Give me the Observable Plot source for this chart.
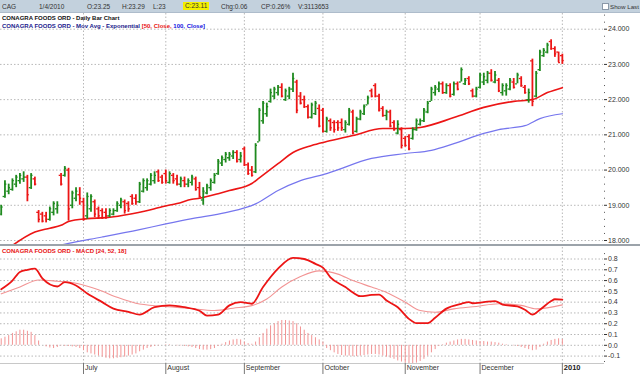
<!DOCTYPE html>
<html><head><meta charset="utf-8">
<script src="https://cdn.jsdelivr.net/npm/d3@7"></script>
<script src="https://cdn.jsdelivr.net/npm/@observablehq/plot@0.6"></script>
<style>
body{margin:0;width:640px;height:375px;overflow:hidden;background:#fff;font-family:"Liberation Sans",Arial,sans-serif;position:relative}
#hdr{position:absolute;left:0;top:0;width:640px;height:12px;background:#c3d1dd;border-bottom:1px solid #aebccb;font-size:6.5px;color:#333}
#hdr span{position:absolute;top:2.5px;white-space:nowrap}
#hdr .hl{background:#f4f000;padding:0 2px;top:1.5px;height:8.5px;line-height:8.5px}
#chk{position:absolute;left:602px;top:3px;width:5px;height:5px;border:1px solid #8a98a8;background:#fff}
.ttl{position:absolute;left:2px;font-size:6px;font-weight:bold;white-space:nowrap}
#main{position:absolute;left:0;top:13px}
#macd{position:absolute;left:0;top:247px}
#sep{position:absolute;left:0;top:244px;width:640px;height:2px;background:#9ca3aa}
</style></head>
<body>
<div id="hdr">
<span style="left:2px">CAG</span>
<span style="left:39px">1/4/2010</span>
<span style="left:87px">O:23.25</span>
<span style="left:122px">H:23.29</span>
<span style="left:153px">L:23</span>
<span class="hl" style="left:183px">C:23.11</span>
<span style="left:221px">Chg:0.06</span>
<span style="left:261px">CP:0.26%</span>
<span style="left:298px">V:3113653</span>
<div id="chk"></div>
<span style="left:610px;font-size:6.2px">Show Last</span>
</div>
<div id="main"></div>
<div id="sep"></div>
<div id="macd"></div>
<div class="ttl" style="top:15px;color:#111">CONAGRA FOODS ORD - Daily Bar Chart</div>
<div class="ttl" style="top:22.5px;color:#1a1a8c">CONAGRA FOODS ORD - Mov Avg - Exponential <span style="color:#e81010">[50, Close, </span><span style="color:#1010e0">100, Close]</span></div>
<div class="ttl" style="top:248px;color:#e81010">CONAGRA FOODS ORD - MACD [24, 52, 18]</div>
<script>
// ---- Data (trading-day index 0 = 1 Jun 2009 ... 150 = 4 Jan 2010) ----
const opens = [18.75,19.25,19.4,19.45,19.6,19.7,19.75,19.8,19.5,19.75,18.8,18.75,18.7,18.6,18.8,18.9,19.85,19.85,20.0,19.0,19.2,19.3,
19.1,18.7,18.9,19.1,18.9,18.85,18.8,18.7,18.75,18.85,19.0,19.1,19.05,19.25,19.2,19.1,19.4,19.5,19.6,19.7,19.95,19.8,
19.9,19.65,19.85,19.75,19.6,19.7,19.6,19.65,19.75,19.5,19.15,19.35,19.5,19.65,19.9,20.2,20.3,20.35,20.4,20.5,20.3,
20.6,20.15,20.0,19.95,20.8,21.4,21.6,21.95,22.1,22.2,22.35,22.0,22.1,22.3,22.5,22.1,22.0,21.8,21.5,21.6,21.75,
21.7,21.1,21.4,21.35,21.35,21.35,21.15,21.3,21.65,21.1,21.45,21.6,21.85,22.25,22.4,22.1,21.75,21.55,21.65,21.35,21.05,21.15,
20.9,20.95,20.9,21.15,21.3,21.4,21.65,21.95,22.2,22.3,22.45,22.2,22.4,22.15,22.45,22.5,22.45,22.6,22.25,22.1,
22.35,22.5,22.55,22.75,22.5,22.55,22.2,22.25,22.3,22.5,22.45,22.6,22.35,22.0,23.1,22.1,22.85,23.25,23.35,23.65,23.45,23.35,
23.25];
const highs = [19.0,19.7,19.6,19.75,19.85,19.9,19.95,19.85,19.9,19.8,18.85,18.8,18.8,18.95,19.1,19.1,19.9,20.1,20.05,19.4,19.5,19.5,
19.2,19.35,19.3,19.15,18.95,18.9,18.9,18.9,18.9,19.1,19.2,19.15,19.1,19.3,19.3,19.65,19.75,19.75,19.9,19.95,20.0,19.85,
20.0,19.95,19.9,19.85,19.8,19.8,19.75,19.85,19.8,19.65,19.5,19.6,19.75,19.9,20.3,20.4,20.5,20.5,20.55,20.55,20.5,
20.65,20.2,20.1,20.75,21.75,21.95,21.9,22.3,22.35,22.4,22.45,22.3,22.35,22.75,22.55,22.2,22.1,21.85,21.9,21.95,21.85,
21.75,21.5,21.45,21.4,21.4,21.45,21.4,21.75,21.7,21.5,21.7,21.85,22.1,22.3,22.45,22.15,21.8,21.7,21.7,21.4,21.4,21.2,
20.95,21.0,21.2,21.45,21.45,21.75,21.95,22.35,22.4,22.5,22.5,22.45,22.45,22.5,22.5,22.9,22.6,22.65,22.3,22.35,
22.75,22.75,22.8,22.85,22.8,22.6,22.45,22.45,22.6,22.6,22.75,22.65,22.4,22.3,23.15,22.8,23.4,23.45,23.6,23.7,23.5,23.35,
23.29];
const lows = [18.7,19.2,19.3,19.4,19.5,19.6,19.65,19.1,19.45,19.55,18.5,18.5,18.5,18.55,18.7,18.75,19.55,19.8,18.55,18.9,19.1,19.0,
18.55,18.6,18.8,18.65,18.6,18.6,18.6,18.65,18.7,18.8,18.9,18.75,18.8,19.0,19.0,19.05,19.35,19.4,19.55,19.6,19.65,19.6,
19.6,19.6,19.6,19.55,19.5,19.5,19.5,19.55,19.4,19.2,19.0,19.3,19.4,19.6,19.85,20.1,20.2,20.25,20.3,20.2,20.2,
20.1,19.85,19.8,19.9,20.8,21.3,21.5,21.9,22.0,22.1,22.05,21.95,22.0,22.2,21.6,21.85,21.75,21.45,21.45,21.55,21.2,
21.05,21.05,21.1,21.05,21.1,21.1,21.05,21.25,21.0,21.05,21.4,21.55,21.85,22.05,22.05,21.65,21.5,21.4,21.2,21.1,21.0,20.6,
20.65,20.55,20.85,21.1,21.25,21.35,21.6,21.95,22.1,22.2,22.15,22.15,22.05,22.1,22.25,22.5,22.4,22.4,22.05,22.05,
22.3,22.4,22.45,22.5,22.45,22.2,22.1,22.1,22.25,22.3,22.45,22.35,22.15,21.9,21.8,22.05,22.8,23.2,23.3,23.4,23.2,23.05,
23.0];
const closes = [18.95,19.6,19.5,19.7,19.8,19.85,19.8,19.3,19.85,19.6,18.6,18.55,18.6,18.9,19.05,19.0,19.6,20.05,18.9,19.35,19.4,19.2,
18.6,19.25,19.25,18.75,18.7,18.65,18.7,18.85,18.85,19.05,19.15,18.85,18.9,19.05,19.1,19.6,19.7,19.7,19.85,19.85,19.7,19.65,
19.7,19.9,19.7,19.6,19.75,19.6,19.7,19.8,19.45,19.25,19.4,19.55,19.7,19.85,20.25,20.35,20.45,20.45,20.5,20.25,20.4,
20.15,19.9,19.85,20.7,21.7,21.9,21.8,22.2,22.3,22.35,22.1,22.25,22.3,22.6,21.7,21.9,21.8,21.5,21.85,21.9,21.25,
21.1,21.45,21.2,21.15,21.2,21.2,21.35,21.7,21.05,21.45,21.65,21.8,22.05,22.1,22.1,21.7,21.55,21.65,21.25,21.15,21.3,20.7,
20.7,20.6,21.15,21.4,21.4,21.7,21.9,22.3,22.35,22.45,22.2,22.4,22.1,22.45,22.3,22.85,22.55,22.45,22.1,22.3,
22.7,22.65,22.75,22.55,22.7,22.25,22.4,22.4,22.55,22.35,22.7,22.4,22.2,22.2,21.95,22.75,23.35,23.4,23.55,23.45,23.3,23.05,
23.11];

// Moving averages (index, value)
const ema50Idx = [0,3,9,13,16,18,23,28,35,41,43,47,51,53,58,61,67,69,74,78,83,87,94,102,108,112,121,129,137,142,146,150];
const ema50Val = [17.62,17.86,18.24,18.35,18.43,18.54,18.62,18.65,18.76,18.9,18.96,19.05,19.17,19.2,19.33,19.42,19.62,19.78,20.18,20.5,20.7,20.81,20.98,21.18,21.18,21.21,21.49,21.78,21.95,22.0,22.2,22.34];
const ema100Idx = [15,18,27,37,44,51,60,68,74,80,87,99,108,115,121,129,133,140,144,150];
const ema100Val = [17.85,17.92,18.1,18.31,18.47,18.62,18.79,19.04,19.42,19.7,19.9,20.33,20.47,20.56,20.75,21.04,21.15,21.26,21.46,21.6];

// MACD panel
const macdIdx = [0,3,5,7,9,11,15,17,20,23,27,30,34,37,41,45,49,53,55,58,61,64,67,70,74,78,81,84,86,88,92,94,96,99,101,103,106,109,111,114,116,119,123,125,126,129,132,134,138,140,142,144,147,148,150];
const macdVal = [0.52,0.6,0.68,0.70,0.71,0.62,0.545,0.585,0.554,0.48,0.40,0.34,0.31,0.285,0.353,0.37,0.353,0.32,0.276,0.285,0.37,0.40,0.385,0.54,0.71,0.81,0.80,0.755,0.72,0.63,0.54,0.49,0.455,0.467,0.47,0.415,0.353,0.245,0.205,0.205,0.255,0.34,0.385,0.40,0.39,0.40,0.41,0.378,0.36,0.33,0.285,0.33,0.41,0.427,0.424];
const signalIdx = [0,5,10,15,20,26,31,36,43,50,57,62,67,71,75,80,85,90,94,99,103,108,112,116,121,127,133,139,143,150];
const signalVal = [0.477,0.54,0.606,0.594,0.575,0.514,0.445,0.39,0.362,0.344,0.322,0.344,0.368,0.43,0.54,0.637,0.69,0.66,0.6,0.54,0.49,0.40,0.322,0.306,0.338,0.36,0.385,0.37,0.338,0.375];
const histVal = [0.06,0.075,0.09,0.11,0.125,0.14,0.14,0.13,0.12,0.09,0.04,0.0,-0.015,-0.025,-0.03,-0.02,-0.005,-0.01,-0.01,-0.015,-0.02,-0.03,
-0.05,-0.07,-0.08,-0.09,-0.1,-0.11,-0.12,-0.125,-0.125,-0.12,-0.115,-0.11,-0.1,-0.09,-0.08,-0.06,-0.045,-0.03,-0.02,-0.01,-0.005,0.0,
0.005,0.005,0.0,-0.005,-0.005,-0.01,-0.015,-0.02,-0.03,-0.04,-0.045,-0.045,-0.04,-0.03,-0.01,0.01,0.025,0.04,0.05,0.055,0.05,
0.03,0.015,0.01,0.03,0.07,0.11,0.15,0.18,0.2,0.22,0.23,0.23,0.225,0.22,0.2,0.17,0.14,0.11,0.09,0.07,0.05,
0.03,-0.03,-0.05,-0.07,-0.085,-0.095,-0.1,-0.1,-0.105,-0.105,-0.1,-0.095,-0.09,-0.085,-0.085,-0.09,-0.1,-0.11,-0.12,-0.13,-0.145,-0.155,
-0.165,-0.17,-0.17,-0.165,-0.15,-0.13,-0.1,-0.07,-0.04,-0.01,0.005,0.02,0.03,0.04,0.05,0.055,0.055,0.05,0.045,0.04,
0.035,0.035,0.03,0.03,0.025,0.02,0.01,0.005,0.0,-0.005,-0.01,-0.02,-0.03,-0.04,-0.05,-0.045,-0.02,0.01,0.03,0.045,0.055,0.06,
0.055];

// Axes
const monthIdx = [22,44,65,86,108,128];
const monthLabels = ["July","August","September","October","November","December"];
const yearIdx = [150];
const yearLabels = ["2010"];
const priceTicks = [18,19,20,21,22,23,24];
const priceMinor = [18.2,18.4,18.6,18.8,19.2,19.4,19.6,19.8,20.2,20.4,20.6,20.8,21.2,21.4,21.6,21.8,22.2,22.4,22.6,22.8,23.2,23.4,23.6,23.8,24.2,24.4];
const macdTicks = [-0.1,0,0.1,0.2,0.3,0.4,0.5,0.6,0.7,0.8];
const macdMinor = [-0.15,-0.05,0.05,0.15,0.25,0.35,0.45,0.55,0.65,0.75,0.85];

// ---- Build ----
const GREEN = "#1f8a1f", RED = "#ec1515", BLUE = "#7676ee", PINK = "#f29494";
const bars = opens.map((o, i) => ({i, o, h: highs[i], l: lows[i], c: closes[i]}));
const col = d => d.c >= d.o ? GREEN : RED;
const pts = (xs, ys) => xs.map((x, k) => ({x, y: ys[k]}));
const gridTicks = monthIdx.concat(yearIdx);
const xDomain = [-0.19, 161];
const style = {fontFamily: "Liberation Sans, Arial, sans-serif", fontSize: "7px", color: "#333", background: "transparent", overflow: "visible"};
const gridStyle = {stroke: "#b8b8b8", strokeOpacity: 1, strokeDasharray: "1.5,2"};

const main = Plot.plot({
  width: 640, height: 233, marginTop: 0, marginBottom: 0, marginLeft: 0, marginRight: 37,
  style,
  x: {domain: xDomain, axis: null},
  y: {domain: [18, 24], range: [227, 15.7], axis: null},
  marks: [
    Plot.gridY(priceTicks, gridStyle),
    Plot.gridX(gridTicks, gridStyle),
    Plot.line(pts(ema100Idx, ema100Val), {x: "x", y: "y", stroke: BLUE, strokeWidth: 1.2, curve: "monotone-x", clip: true}),
    Plot.line(pts(ema50Idx, ema50Val), {x: "x", y: "y", stroke: RED, strokeWidth: 1.6, curve: "monotone-x", clip: true}),
    Plot.ruleX(bars, {x: "i", y1: "l", y2: "h", stroke: col, strokeWidth: 1.8}),
    Plot.ruleY(bars, {y: "o", x1: d => d.i - 0.5, x2: "i", stroke: col, strokeWidth: 1.3}),
    Plot.ruleY(bars, {y: "c", x1: "i", x2: d => d.i + 0.5, stroke: col, strokeWidth: 1.3}),
    Plot.axisY(priceTicks, {anchor: "right", tickSize: 3, tickPadding: 1.5, tickFormat: d => d.toFixed(3), stroke: "#333", fill: "#333"}),
    Plot.axisY(priceMinor, {anchor: "right", tickSize: 1, tickFormat: () => "", stroke: "#555"})
  ]
});
document.getElementById("main").appendChild(main);

const macd = Plot.plot({
  width: 640, height: 128, marginTop: 0, marginBottom: 12, marginLeft: 0, marginRight: 37,
  style,
  x: {domain: xDomain, axis: null},
  y: {domain: [0, 0.8], range: [97.8, 11.5], axis: null},
  marks: [
    Plot.gridY(macdTicks, gridStyle),
    Plot.gridX(gridTicks, gridStyle),
    Plot.ruleX(histVal.map((v, i) => ({i, v})), {x: "i", y1: 0, y2: "v", stroke: PINK, strokeWidth: 1}),
    Plot.line(pts(signalIdx, signalVal), {x: "x", y: "y", stroke: PINK, strokeWidth: 1.1, curve: "monotone-x"}),
    Plot.line(pts(macdIdx, macdVal), {x: "x", y: "y", stroke: RED, strokeWidth: 1.8, curve: "monotone-x"}),
    Plot.frame({anchor: "bottom", stroke: "#c8c8c8"}),
    Plot.axisY(macdTicks, {anchor: "right", tickSize: 3, tickPadding: 1.5, tickFormat: d => d.toFixed(1), stroke: "#333", fill: "#333"}),
    Plot.axisY(macdMinor, {anchor: "right", tickSize: 1, tickFormat: () => "", stroke: "#555"}),
    Plot.axisX(gridTicks, {anchor: "bottom", tickSize: 11, tickFormat: () => "", stroke: "#777"}),
    Plot.text(monthIdx, {x: d => d, text: (d, k) => monthLabels[k], frameAnchor: "bottom", dy: 6.5, dx: 1.5, textAnchor: "start", fill: "#333", fontSize: 7}),
    Plot.text(yearIdx, {x: d => d, text: (d, k) => yearLabels[k], frameAnchor: "bottom", dy: 6.5, dx: 1.5, textAnchor: "start", fill: "#222", fontSize: 7.5, fontWeight: "bold"})
  ]
});
document.getElementById("macd").appendChild(macd);
</script>
</body></html>
